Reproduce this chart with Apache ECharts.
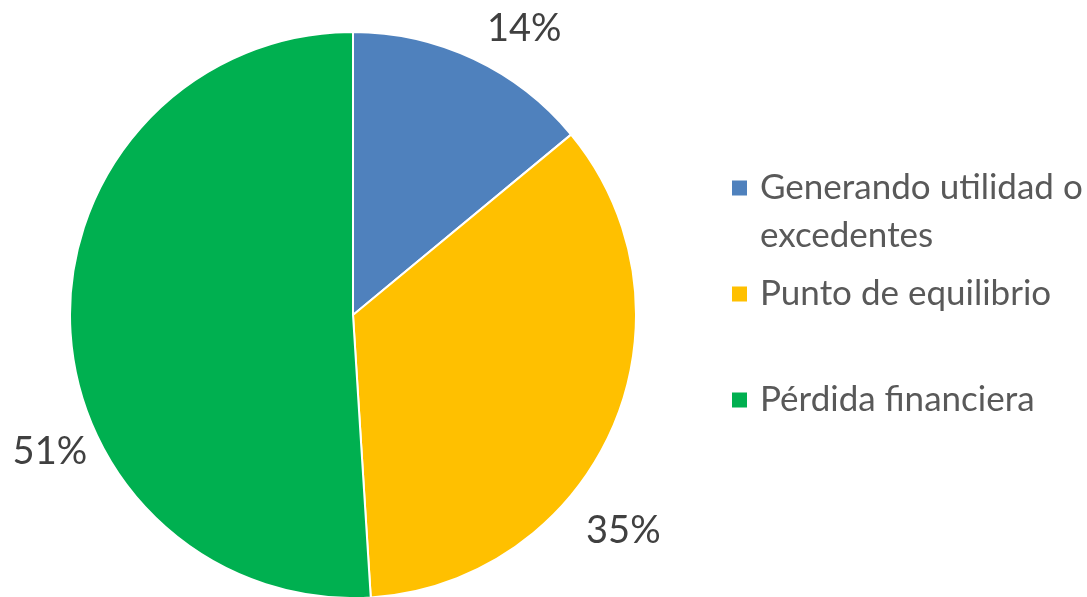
<!DOCTYPE html>
<html>
<head>
<meta charset="utf-8">
<script src="https://cdn.jsdelivr.net/npm/echarts@6/dist/echarts.min.js"></script>
<style>
  html, body { margin: 0; padding: 0; background: #fff; }
  #chart { width: 1087px; height: 597px; }
</style>
</head>
<body>
<div id="chart"></div>
<script>
const categories = ['Generando utilidad o excedentes', 'Punto de equilibrio', 'Pérdida financiera']
const values = [14, 35, 51]
const colors = ['#4F81BD', '#FFC000', '#00B050']

const myChart = echarts.init(document.getElementById('chart'))

// square marker with an empty strip to its right, so the text sits further out
const markerIcon = 'path://M0 0H15V15H0Z M22.99 14.99H23V15H22.99Z'

// nudge labels to where Excel put them
const labelShift = [[0, -12], [-50, 95], [42, 127]]

const legendText = {
    fontFamily: 'Lato',
    fontSize: 35,
    color: '#595959',
    lineHeight: 48
}

function oneLegend(name, top, fmt) {
    return {
        data: [name],
        left: 732, top: top, padding: 0,
        itemWidth: 23, itemHeight: 15,
        icon: markerIcon,
        itemStyle: { borderWidth: 0 },
        formatter: fmt,
        textStyle: legendText
    }
}

myChart.setOption({
    animation: false,
    color: colors,
    legend: [
        oneLegend(categories[0], 116, () => ' \nGenerando utilidad o\nexcedentes'),
        oneLegend(categories[1], 270),
        oneLegend(categories[2], 376)
    ],
    series: [{
        type: 'pie',
        center: [353, 315],
        radius: 283,
        startAngle: 90,
        clockwise: true,
        itemStyle: { borderColor: '#fff', borderWidth: 2 },
        label: {
            show: true,
            position: 'outside',
            formatter: '{d}%',
            fontFamily: 'Lato',
            fontSize: 38,
            color: '#404040',
            overflow: 'none'
        },
        labelLine: { show: false, length: 20, length2: 0 },
        labelLayout: params => ({
            dx: labelShift[params.dataIndex][0],
            dy: labelShift[params.dataIndex][1]
        }),
        emphasis: { disabled: true },
        data: categories.map((name, i) => ({ name: name, value: values[i] }))
    }]
})
</script>
</body>
</html>
